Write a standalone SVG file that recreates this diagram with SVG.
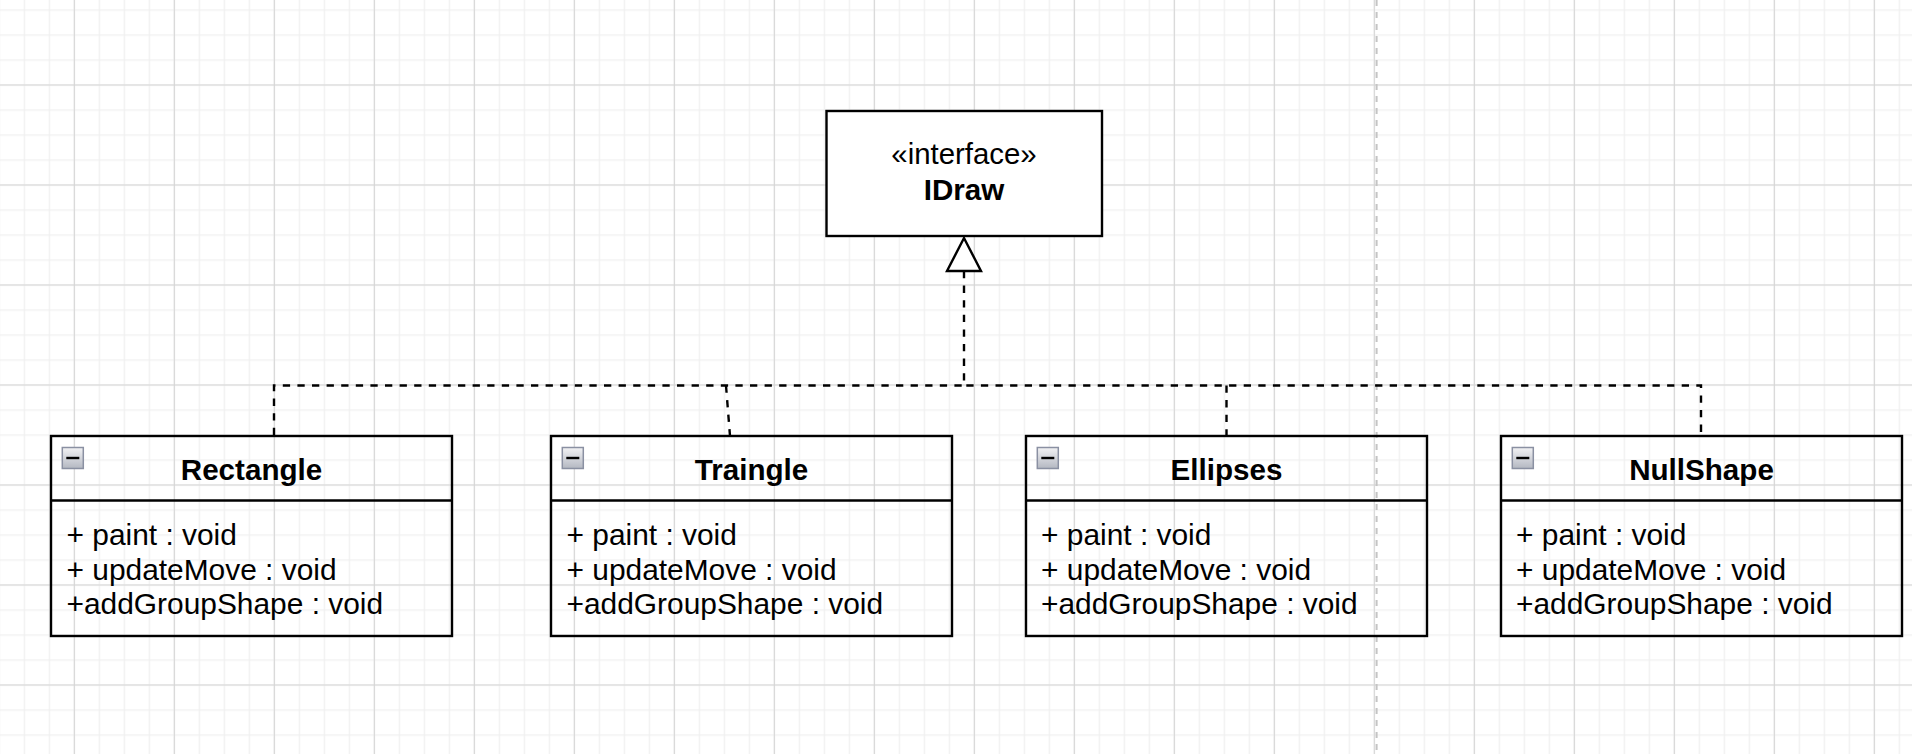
<svg xmlns="http://www.w3.org/2000/svg" width="1912" height="754" viewBox="0 0 1912 754">
  <style>
    .box { fill: none; stroke: #000; stroke-width: 2.4; }
    .ibox { fill: #fff; stroke: #000; stroke-width: 2.4; }
    .div { stroke: #000; stroke-width: 2.4; }
    .title { font-family: "Liberation Sans", Arial, sans-serif; font-size: 29.6px; font-weight: bold; text-anchor: middle; fill: #000; }
    .stereo { font-family: "Liberation Sans", Arial, sans-serif; font-size: 29.4px; text-anchor: middle; fill: #000; }
    .member { font-family: "Liberation Sans", Arial, sans-serif; font-size: 29.9px; fill: #000; }
    .conn { fill: none; stroke: #000; stroke-width: 2.4; stroke-dasharray: 7.3 7.3; }
  </style>
  <defs>
    <pattern id="minor" patternUnits="userSpaceOnUse" x="23.7" y="9.4" width="25" height="25">
      <rect x="0" y="0" width="1.3" height="25" fill="#f0f0f0"/>
      <rect x="0" y="0" width="25" height="1.3" fill="#f0f0f0"/>
    </pattern>
    <pattern id="major" patternUnits="userSpaceOnUse" x="73.8" y="84.5" width="100" height="100">
      <rect x="0" y="0" width="1" height="100" fill="#d4d4d4"/>
      <rect x="0" y="0" width="100" height="1" fill="#d4d4d4"/>
    </pattern>
    <linearGradient id="iconGrad" x1="0" y1="0" x2="0" y2="1">
      <stop offset="0" stop-color="#f2f2f4"/>
      <stop offset="1" stop-color="#b4b8c2"/>
    </linearGradient>
    <marker id="inherit" markerUnits="userSpaceOnUse" markerWidth="50" markerHeight="50" refX="0" refY="0" orient="auto-start-reverse" overflow="visible" viewBox="-5 -25 50 50">
      <path d="M0,-17 L33,0 L0,17 Z" fill="#fff" stroke="#000" stroke-width="2.4"/>
    </marker>
    <g id="collapse">
      <rect x="0" y="0" width="21" height="21" fill="url(#iconGrad)" stroke="#8a90a2" stroke-width="1.5"/>
      <rect x="4" y="9.3" width="13" height="2.4" fill="#000"/>
    </g>
  </defs>

  <rect x="0" y="0" width="1912" height="754" fill="#fff"/>
  <rect x="0" y="0" width="1912" height="754" fill="url(#minor)"/>
  <rect x="0" y="0" width="1912" height="754" fill="url(#major)"/>
  <line x1="1376.6" y1="0" x2="1376.6" y2="754" stroke="#c4c4c4" stroke-width="2" stroke-dasharray="6 6"/>

  <g id="connectors">
    <path class="conn" d="M964,271 V385.5 H274 V436" marker-start="url(#inherit)"/>
    <path class="conn" d="M726,385.5 L730,436"/>
    <path class="conn" d="M964,385.5 H1701 V436" stroke-dashoffset="12.3"/>
    <path class="conn" d="M1226.5,385.5 V436"/>
  </g>

  <g id="IDraw">
    <rect class="ibox" x="826.5" y="111" width="275.5" height="125"/>
    <text class="stereo" x="964" y="164">«interface»</text>
    <text class="title" x="964" y="200">IDraw</text>
  </g>

  <g id="Rectangle">
    <rect class="box" x="51" y="436" width="401" height="200"/>
    <line class="div" x1="51" y1="500.5" x2="452" y2="500.5"/>
    <use href="#collapse" x="62.3" y="447.5"/>
    <text class="title" x="251.5" y="479.5">Rectangle</text>
    <text class="member" x="66.5" y="544.5">+ paint : void</text>
    <text class="member" x="66.5" y="579.5">+ updateMove : void</text>
    <text class="member" x="66.5" y="614">+addGroupShape : void</text>
  </g>

  <g id="Traingle">
    <rect class="box" x="551" y="436" width="401" height="200"/>
    <line class="div" x1="551" y1="500.5" x2="952" y2="500.5"/>
    <use href="#collapse" x="562.3" y="447.5"/>
    <text class="title" x="751.5" y="479.5">Traingle</text>
    <text class="member" x="566.5" y="544.5">+ paint : void</text>
    <text class="member" x="566.5" y="579.5">+ updateMove : void</text>
    <text class="member" x="566.5" y="614">+addGroupShape : void</text>
  </g>

  <g id="Ellipses">
    <rect class="box" x="1026" y="436" width="401" height="200"/>
    <line class="div" x1="1026" y1="500.5" x2="1427" y2="500.5"/>
    <use href="#collapse" x="1037.3" y="447.5"/>
    <text class="title" x="1226.5" y="479.5">Ellipses</text>
    <text class="member" x="1041" y="544.5">+ paint : void</text>
    <text class="member" x="1041" y="579.5">+ updateMove : void</text>
    <text class="member" x="1041" y="614">+addGroupShape : void</text>
  </g>

  <g id="NullShape">
    <rect class="box" x="1501" y="436" width="401" height="200"/>
    <line class="div" x1="1501" y1="500.5" x2="1902" y2="500.5"/>
    <use href="#collapse" x="1512.3" y="447.5"/>
    <text class="title" x="1701.5" y="479.5">NullShape</text>
    <text class="member" x="1516" y="544.5">+ paint : void</text>
    <text class="member" x="1516" y="579.5">+ updateMove : void</text>
    <text class="member" x="1516" y="614">+addGroupShape : void</text>
  </g>
</svg>
